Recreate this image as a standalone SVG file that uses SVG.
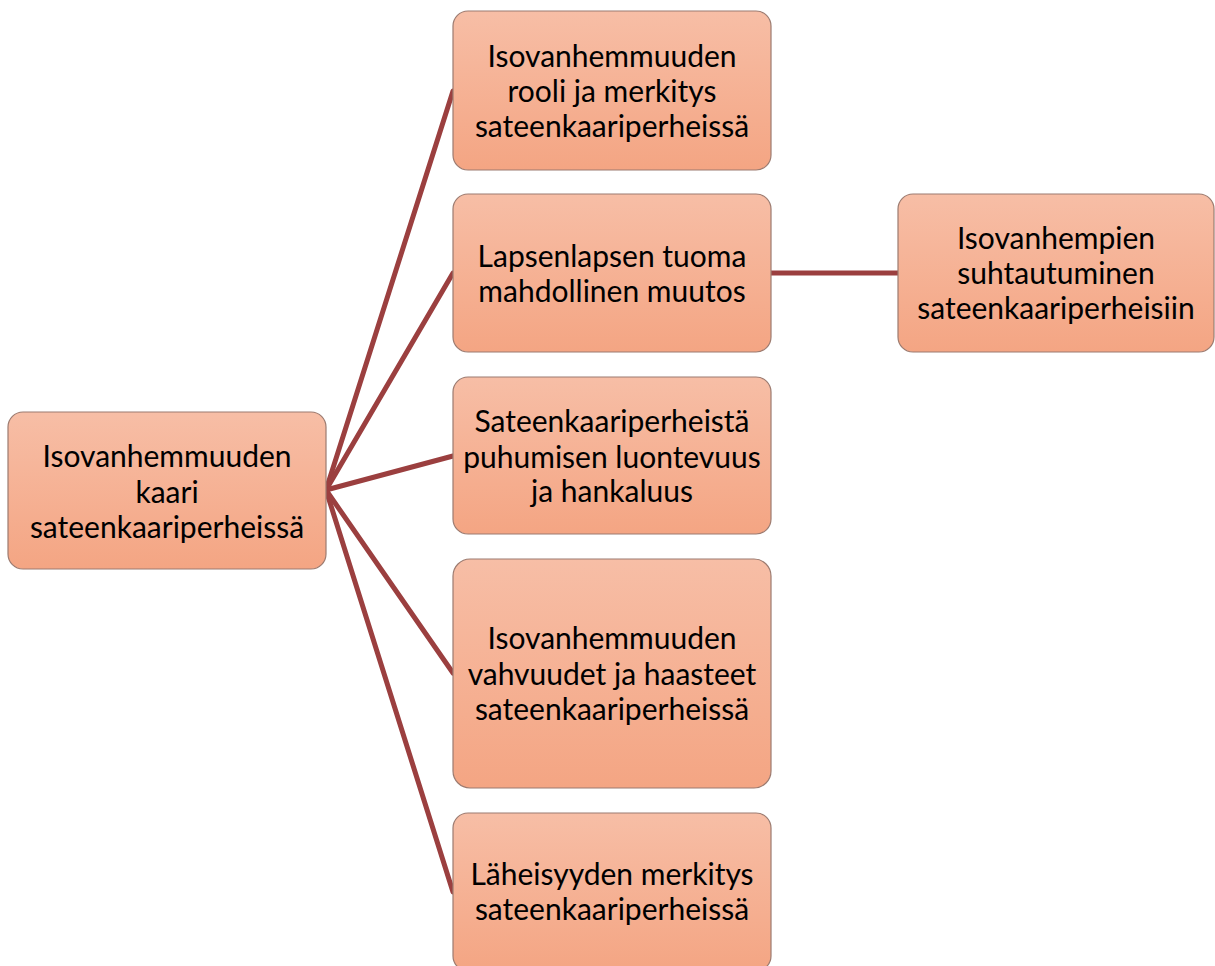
<svg xmlns="http://www.w3.org/2000/svg" width="1215" height="966" viewBox="0 0 1215 966">
<defs>
<linearGradient id="g" x1="0" y1="0" x2="0" y2="1">
<stop offset="0" stop-color="#F7BEA6"/>
<stop offset="1" stop-color="#F4A583"/>
</linearGradient>
</defs>
<style>
.box{fill:url(#g);stroke:#9C7B70;stroke-width:1.2}
.t{font-family:Lato,"Liberation Sans",sans-serif;font-size:30px;fill:#000;text-anchor:middle}
.c{stroke:#9B3F3F;stroke-width:5;fill:none;stroke-linecap:round}
</style>
<rect width="1215" height="966" fill="#fff"/>
<g id="connectors">
<line class="c" x1="326" y1="490" x2="453" y2="91"/>
<line class="c" x1="326" y1="490" x2="453" y2="273"/>
<line class="c" x1="326" y1="490" x2="453" y2="456"/>
<line class="c" x1="326" y1="490" x2="453" y2="673"/>
<line class="c" x1="326" y1="490" x2="453" y2="892"/>
<line class="c" x1="771" y1="273" x2="898" y2="273"/>
</g>
<g id="root">
<rect class="box" x="8" y="412" width="318" height="157" rx="15"/>
<text class="t" x="167" y="467">Isovanhemmuuden</text>
<text class="t" x="167" y="503">kaari</text>
<text class="t" x="167" y="538">sateenkaariperheissä</text>
</g>
<g id="n1">
<rect class="box" x="453" y="11" width="318" height="159" rx="15"/>
<text class="t" x="612" y="67">Isovanhemmuuden</text>
<text class="t" x="612" y="102">rooli ja merkitys</text>
<text class="t" x="612" y="137">sateenkaariperheissä</text>
</g>
<g id="n2">
<rect class="box" x="453" y="194" width="318" height="158" rx="15"/>
<text class="t" x="612" y="267">Lapsenlapsen tuoma</text>
<text class="t" x="612" y="302">mahdollinen muutos</text>
</g>
<g id="n3">
<rect class="box" x="453" y="377" width="318" height="157" rx="15"/>
<text class="t" x="612" y="432">Sateenkaariperheistä</text>
<text class="t" x="612" y="468">puhumisen luontevuus</text>
<text class="t" x="612" y="502">ja hankaluus</text>
</g>
<g id="n4">
<rect class="box" x="453" y="559" width="318" height="229" rx="17"/>
<text class="t" x="612" y="649">Isovanhemmuuden</text>
<text class="t" x="612" y="685">vahvuudet ja haasteet</text>
<text class="t" x="612" y="720">sateenkaariperheissä</text>
</g>
<g id="n5">
<rect class="box" x="453" y="813" width="318" height="158" rx="15"/>
<text class="t" x="612" y="885">Läheisyyden merkitys</text>
<text class="t" x="612" y="920">sateenkaariperheissä</text>
</g>
<g id="n6">
<rect class="box" x="898" y="194" width="316" height="158" rx="15"/>
<text class="t" x="1056" y="249">Isovanhempien</text>
<text class="t" x="1056" y="284">suhtautuminen</text>
<text class="t" x="1056" y="319">sateenkaariperheisiin</text>
</g>
</svg>
